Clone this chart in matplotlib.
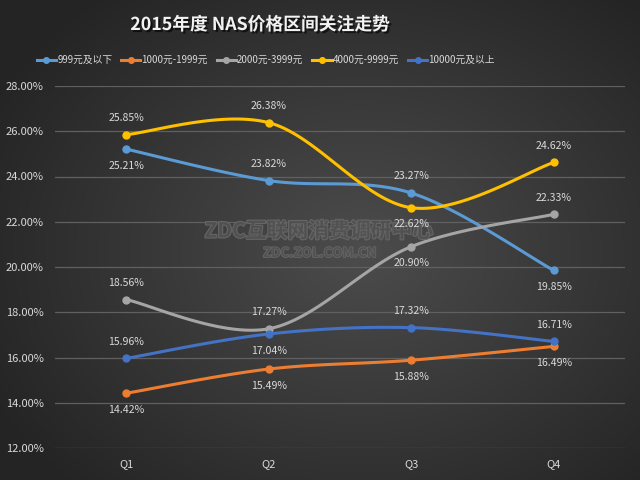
import numpy as np
import matplotlib
matplotlib.use("Agg")
import matplotlib.pyplot as plt
from matplotlib.lines import Line2D
import matplotlib.patheffects as pe

plt.rcParams['font.family'] = ['Noto Sans CJK SC', 'DejaVu Sans']

categories = ["Q1", "Q2", "Q3", "Q4"]
series_names = ["999元及以下", "1000元-1999元", "2000元-3999元", "4000元-9999元", "10000元及以上"]
s999 = [25.21, 23.82, 23.27, 19.85]
s1000 = [14.42, 15.49, 15.88, 16.49]
s2000 = [18.56, 17.27, 20.90, 22.33]
s4000 = [25.85, 26.38, 22.62, 24.62]
s10000 = [15.96, 17.04, 17.32, 16.71]
colors = ["#5B9BD5", "#ED7D31", "#A5A5A5", "#FFC000", "#4472C4"]
# label placement: +1 above, -1 below
label_pos = [
    [-1, 1, 1, -1],
    [-1, -1, -1, -1],
    [1, 1, -1, 1],
    [1, 1, -1, 1],
    [1, -1, 1, 1],
]
yticks = [12, 14, 16, 18, 20, 22, 24, 26, 28]

all_series = [s999, s1000, s2000, s4000, s10000]

fig = plt.figure(figsize=(6.4, 4.8), dpi=100)

# radial gradient background
bg = fig.add_axes([0, 0, 1, 1], zorder=-10)
H, W = 480, 640
yy, xx = np.mgrid[0:H, 0:W]
r = np.sqrt(((xx - 360) / 420.0) ** 2 + ((yy - 250) / 330.0) ** 2)
r = np.clip(r, 0, 1)
c = (0x4c + (0x24 - 0x4c) * r) / 255.0
img = np.dstack([c, c, c])
bg.imshow(img, aspect='auto', extent=[0, 1, 0, 1])
bg.set_axis_off()

ax = fig.add_axes([55 / 640, 1 - 448 / 480, 570 / 640, (448 - 86) / 480])
ax.set_facecolor('none')
ax.set_xlim(-0.5, 3.5)
ax.set_ylim(12, 28)
ax.set_yticks(yticks)
ax.set_yticklabels([f"{v:.2f}%" for v in yticks])
ax.set_xticks(range(len(categories)))
ax.set_xticklabels(categories)
ax.tick_params(length=0, colors="#D9D9D9", labelsize=8)
ax.tick_params(axis='y', pad=8)
ax.tick_params(axis='x', pad=8)
for s in ax.spines.values():
    s.set_visible(False)
ax.grid(axis='y', color="#606060", linewidth=0.9)
ax.set_axisbelow(True)


def smooth(xs, ys, n=40):
    xs = np.asarray(xs, float)
    ys = np.asarray(ys, float)
    px, py = [], []
    for i in range(len(xs) - 1):
        x0, y0 = (xs[i - 1], ys[i - 1]) if i > 0 else (xs[i], ys[i])
        x1, y1 = xs[i], ys[i]
        x2, y2 = xs[i + 1], ys[i + 1]
        x3, y3 = (xs[i + 2], ys[i + 2]) if i + 2 < len(xs) else (x2, y2)
        c1x, c1y = x1 + (x2 - x0) / 6, y1 + (y2 - y0) / 6
        c2x, c2y = x2 - (x3 - x1) / 6, y2 - (y3 - y1) / 6
        t = np.linspace(0, 1, n)
        bx = (1 - t) ** 3 * x1 + 3 * (1 - t) ** 2 * t * c1x + 3 * (1 - t) * t ** 2 * c2x + t ** 3 * x2
        by = (1 - t) ** 3 * y1 + 3 * (1 - t) ** 2 * t * c1y + 3 * (1 - t) * t ** 2 * c2y + t ** 3 * y2
        px.extend(bx)
        py.extend(by)
    return np.array(px), np.array(py)


xs = np.arange(len(categories))
handles = []
for name, vals, col, lp in zip(series_names, all_series, colors, label_pos):
    sx, sy = smooth(xs, vals)
    ax.plot(sx, sy, color=col, lw=2.2, solid_capstyle='round', zorder=3)
    ax.plot(xs, vals, 'o', color=col, ms=5, zorder=4)
    for x, v, p in zip(xs, vals, lp):
        ax.annotate(f"{v:.2f}%", (x, v), xytext=(0, 12 * p), textcoords='offset points',
                    ha='center', va='center', color="#D9D9D9", fontsize=7.6, zorder=6)
    handles.append(Line2D([], [], color=col, lw=2.2, marker='o', ms=4, label=name))

leg = fig.legend(handles=handles, loc='center left', bbox_to_anchor=(28 / 640, 1 - 60 / 480), ncol=5,
                 frameon=False, fontsize=7, handlelength=2.0, handletextpad=0.1, columnspacing=0.9,
                 labelcolor="#D9D9D9")

fig.text(260 / 640, 1 - 25 / 480, "2015年度 NAS价格区间关注走势", ha='center', va='center',
         fontsize=12.8, fontweight='bold', color="#F2F2F2",
         path_effects=[pe.withSimplePatchShadow(offset=(1.5, -1.5), shadow_rgbFace='black', alpha=0.6)])

# watermark (between lines and labels)
ax.text(319 / 640, 1 - 231 / 480, "ZDC互联网消费调研中心", ha='center', va='center', fontsize=15,
        fontweight='bold', color="#505050", alpha=0.9, zorder=5, transform=fig.transFigure,
        path_effects=[pe.withStroke(linewidth=1.5, foreground="#6a6a6a")])
ax.text(320 / 640, 1 - 253 / 480, "ZDC.ZOL.COM.CN", ha='center', va='center', fontsize=9.5,
        fontweight='bold', color="#505050", alpha=0.9, zorder=5, transform=fig.transFigure,
        path_effects=[pe.withStroke(linewidth=1.2, foreground="#6a6a6a")])

fig.savefig("out.png", dpi=100)
